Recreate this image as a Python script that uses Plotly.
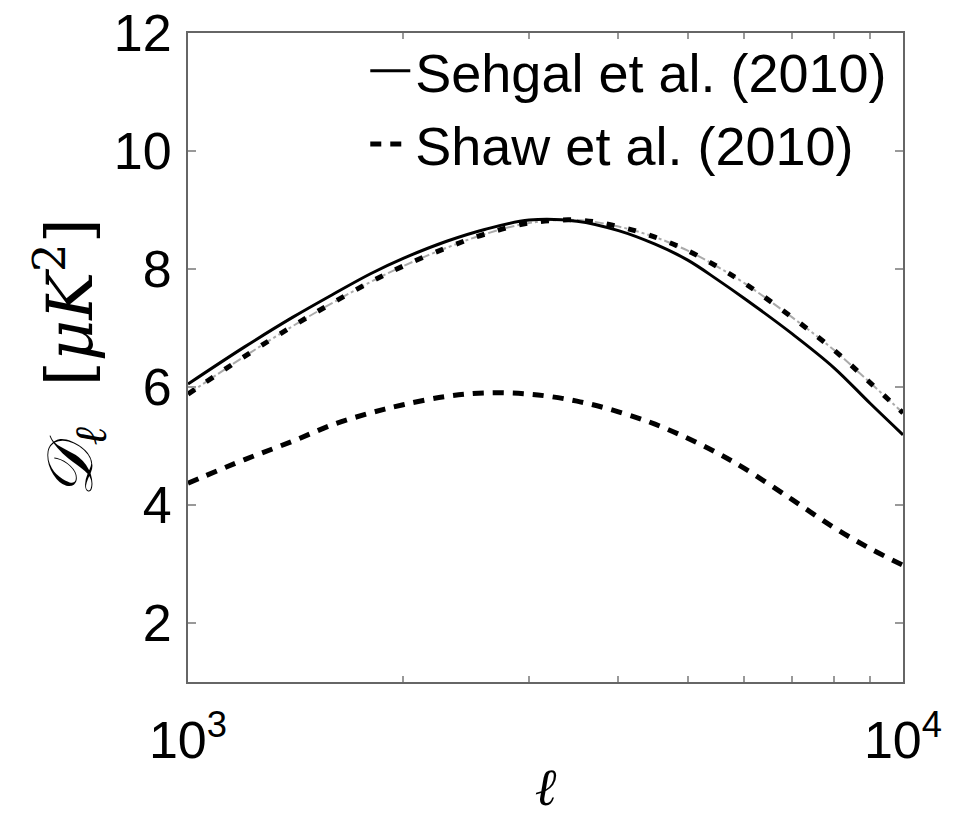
import plotly.graph_objects as go

ell = [1000, 1200, 1400, 1600, 1800, 2000, 2300, 2600, 3000, 3500, 4000,
       4500, 5000, 5500, 6000, 7000, 8000, 9000, 10000]
sehgal = [6.05, 6.68, 7.18, 7.58, 7.92, 8.18, 8.47, 8.67, 8.83, 8.81, 8.65,
          8.42, 8.15, 7.82, 7.50, 6.90, 6.33, 5.72, 5.19]
upper = [5.88, 6.52, 7.03, 7.44, 7.78, 8.05, 8.36, 8.59, 8.78, 8.83, 8.72,
         8.54, 8.31, 8.04, 7.76, 7.18, 6.63, 6.07, 5.56]
shaw = [4.37, 4.77, 5.08, 5.37, 5.56, 5.70, 5.84, 5.90, 5.88, 5.76, 5.58,
        5.37, 5.13, 4.88, 4.62, 4.09, 3.62, 3.26, 2.98]

xticks = [1000, 10000]
xticktext = ["10<sup>3</sup>", "10<sup>4</sup>"]
xminor = [2000, 3000, 4000, 5000, 6000, 7000, 8000, 9000]
yticks = [2, 4, 6, 8, 10, 12]

fig = go.Figure()
fig.add_trace(go.Scatter(x=ell, y=upper, mode="lines", showlegend=False,
                         line=dict(color="#aaaaaa", width=2, dash="dashdot", shape="spline")))
fig.add_trace(go.Scatter(x=ell, y=upper, mode="lines", showlegend=False,
                         line=dict(color="black", width=5, dash="8px,14px", shape="spline")))
fig.add_trace(go.Scatter(x=ell, y=sehgal, mode="lines", name="Sehgal et al. (2010)",
                         line=dict(color="black", width=3, shape="spline")))
fig.add_trace(go.Scatter(x=ell, y=shaw, mode="lines", name="Shaw et al. (2010)",
                         line=dict(color="black", width=5, dash="11px,9px", shape="spline")))

axis_common = dict(showgrid=False, zeroline=False, showline=True, linecolor="#666666",
                   linewidth=2, mirror="ticks", ticks="inside", ticklen=8,
                   tickcolor="#999999", tickwidth=1.5, automargin=False,
                   tickfont=dict(family="Liberation Sans, Arial", size=52, color="black"))

fig.update_layout(
    width=954, height=817,
    margin=dict(l=188, r=51, t=33, b=135),
    paper_bgcolor="white", plot_bgcolor="white",
    xaxis=dict(type="log", range=[3, 4], tickvals=xticks, ticktext=xticktext,
               ticklabelstandoff=12,
               minor=dict(tickvals=xminor, ticks="inside", ticklen=6,
                          tickcolor="#999999", tickwidth=1.5),
               title=dict(text="<i>ℓ</i>", font=dict(family="DejaVu Serif", size=52, color="black"),
                          standoff=2),
               **axis_common),
    yaxis=dict(range=[1, 12], tickvals=yticks, ticklabelstandoff=4,
               title=dict(text="<i>𝒟</i><sub><i>ℓ</i></sub>  [<i>μK</i><sup>2</sup>]",
                          font=dict(family="DejaVu Serif", size=64, color="black"),
                          standoff=0),
               **axis_common),
    legend=dict(x=0.985, y=1.006, xanchor="right", yanchor="top",
                bgcolor="rgba(0,0,0,0)", borderwidth=0,
                font=dict(family="Liberation Sans, Arial", size=54, color="black"),
                itemwidth=40, tracegroupgap=0),
)

fig.write_html("out.html")
